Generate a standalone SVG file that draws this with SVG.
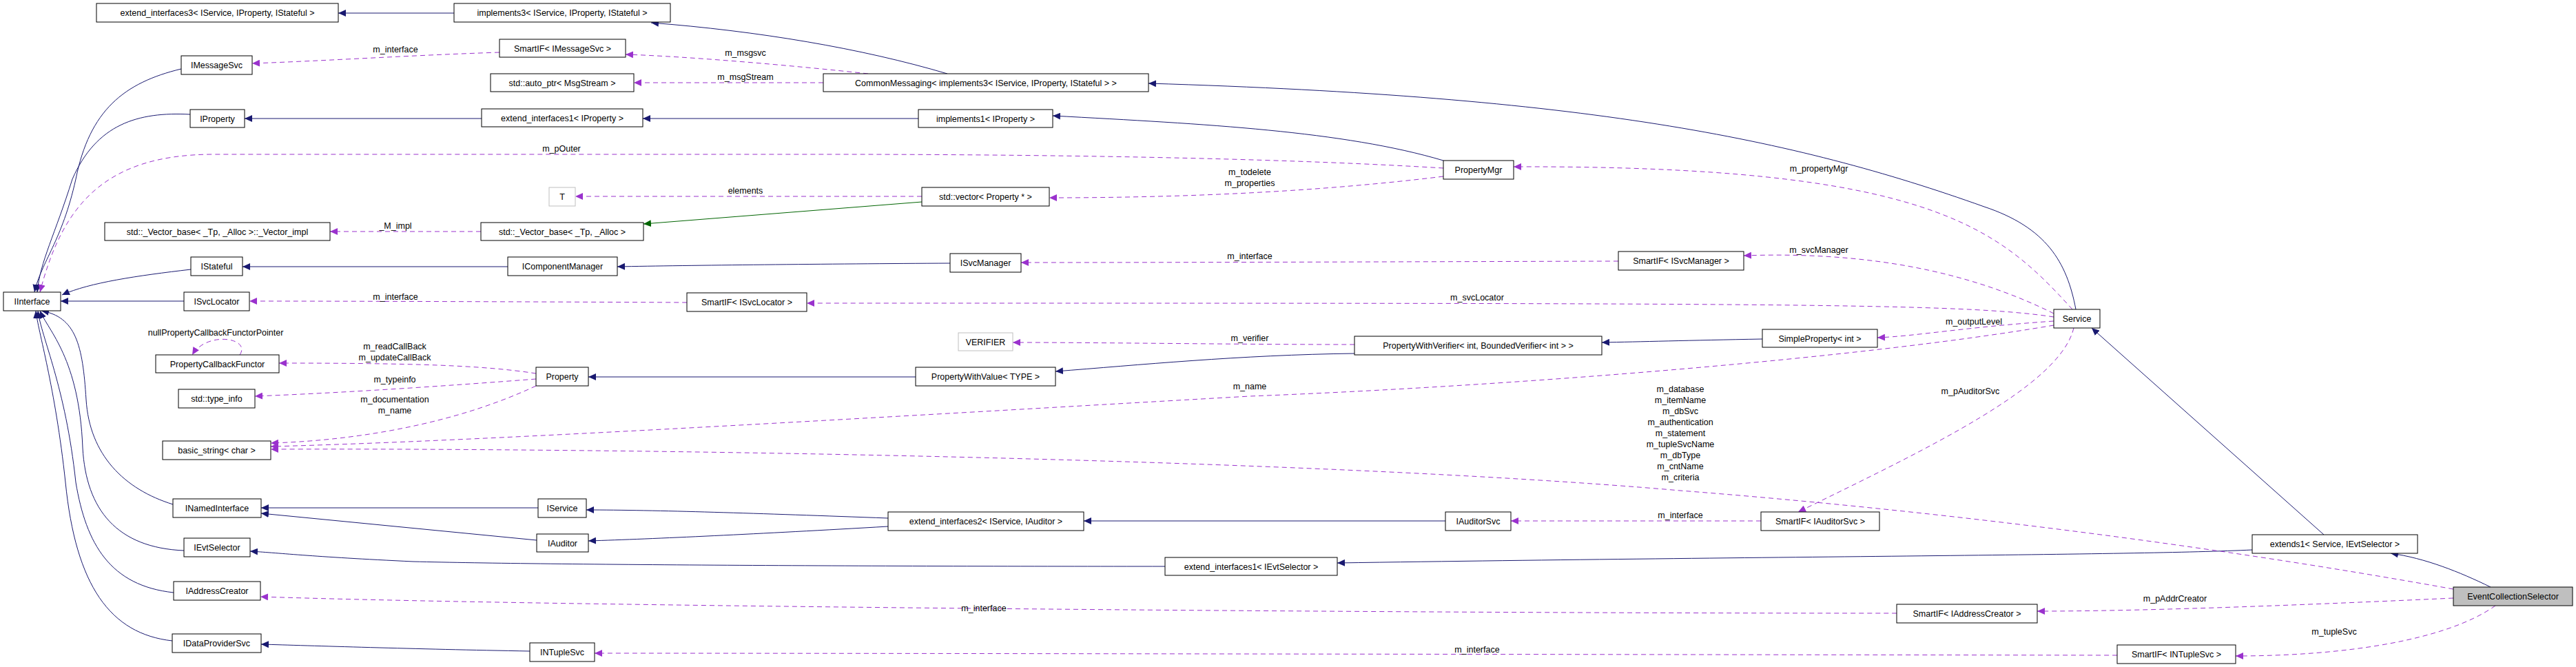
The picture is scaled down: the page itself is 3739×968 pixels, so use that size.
<svg xmlns="http://www.w3.org/2000/svg" width="3739" height="968" viewBox="0 0 3739 968">
<style>
.n rect{fill:#fff;stroke:#000;stroke-width:1}
.g rect{fill:#fff;stroke:#bfbfbf;stroke-width:1}
.h rect{fill:#bfbfbf;stroke:#000;stroke-width:1}
text{font-family:"Liberation Sans",Arial,sans-serif;font-size:12.5px;fill:#000}
.n text,.g text,.h text{text-anchor:middle}
.l{text-anchor:middle}
.b{fill:none;stroke:#191970;stroke-width:1;marker-end:url(#ab)}
.p{fill:none;stroke:#9a32cd;stroke-width:1;stroke-dasharray:7,5;marker-end:url(#ap)}
.q{fill:none;stroke:#006400;stroke-width:1;marker-end:url(#ag)}
</style>
<defs>
<marker id="ab" markerWidth="12" markerHeight="10" refX="11" refY="5" orient="auto" markerUnits="userSpaceOnUse"><path d="M0,0 L11,5 L0,10 Z" fill="#191970"/></marker>
<marker id="ap" markerWidth="12" markerHeight="10" refX="11" refY="5" orient="auto" markerUnits="userSpaceOnUse"><path d="M0,0 L11,5 L0,10 Z" fill="#9a32cd"/></marker>
<marker id="ag" markerWidth="12" markerHeight="10" refX="11" refY="5" orient="auto" markerUnits="userSpaceOnUse"><path d="M0,0 L11,5 L0,10 Z" fill="#006400"/></marker>
</defs>
<rect width="3739" height="968" fill="#fff"/>
<g id="edges">
<path class="b" d="M659,19 L491,19"/>
<path class="b" d="M1375,107 C1250,70 1100,45 945,33"/>
<path class="b" d="M3013,449 C3000,380 2970,330 2880,300 C2600,200 2300,140 1667,121"/>
<path class="b" d="M2095,233 C1950,190 1750,180 1528,168"/>
<path class="b" d="M1333,172 L933,172"/>
<path class="b" d="M699,172 L355,172"/>
<path class="b" d="M263,100 C180,120 130,160 110,260 C90,350 60,380 50,424"/>
<path class="b" d="M276,166 C200,162 140,180 105,260 C80,340 58,380 54,424"/>
<path class="b" d="M277,391 C200,400 130,410 90,428"/>
<path class="b" d="M267,437 L88,437"/>
<path class="b" d="M737,387 L352,387"/>
<path class="b" d="M1379,382 C1200,383 1000,385 896,387"/>
<path class="q" d="M1338,293 L934,325"/>
<path class="b" d="M1329,547 L854,547"/>
<path class="b" d="M1966,513 C1800,515 1650,530 1532,539"/>
<path class="b" d="M2558,492 C2450,494 2380,496 2325,497"/>
<path class="b" d="M251,732 C180,710 130,660 125,580 C120,500 110,460 60,451"/>
<path class="b" d="M267,799 C170,795 125,740 120,650 C115,520 70,480 58,451"/>
<path class="b" d="M252,860 C160,850 125,790 110,700 C95,560 60,490 55,451"/>
<path class="b" d="M250,930 C160,920 110,850 95,700 C80,560 55,480 52,451"/>
<path class="b" d="M781,737 L379,737"/>
<path class="b" d="M779,784 L379,745"/>
<path class="b" d="M1289,752 C1100,745 950,740 851,740"/>
<path class="b" d="M1289,764 C1100,775 950,782 854,785"/>
<path class="b" d="M2098,756 L1573,756"/>
<path class="b" d="M1691,822 C1300,822 800,820 600,815 C450,808 400,802 363,800"/>
<path class="b" d="M3269,798 C3100,806 2600,807 1941,817"/>
<path class="b" d="M3373,776 L3036,476"/>
<path class="b" d="M3615,852 C3570,830 3520,810 3470,803"/>
<path class="b" d="M769,945 C600,942 450,937 379,935"/>
<path class="p" d="M725,76 C600,80 480,88 366,92"/>
<path class="p" d="M1260,107 C1150,95 1000,82 908,79"/>
<path class="p" d="M1195,120 L920,120"/>
<path class="p" d="M2095,244 C1900,232 1600,224 1200,224 L310,224 C150,224 90,300 58,424"/>
<path class="p" d="M2095,256 C1900,280 1700,287 1523,287"/>
<path class="p" d="M1338,285 L835,285"/>
<path class="p" d="M698,336 L479,336"/>
<path class="p" d="M2349,379 C2000,380 1700,381 1482,381"/>
<path class="p" d="M997,439 C800,438 500,437 362,437"/>
<path class="p" d="M3008,449 C2900,330 2800,240 2197,242"/>
<path class="p" d="M2981,455 C2850,390 2700,365 2531,371"/>
<path class="p" d="M2981,460 C2850,440 2600,440 1171,440"/>
<path class="p" d="M2981,466 C2850,475 2780,488 2725,490"/>
<path class="p" d="M1966,500 C1800,500 1600,497 1470,497"/>
<path class="p" d="M778,542 C700,530 600,527 405,527"/>
<path class="p" d="M778,550 C650,560 500,570 370,575"/>
<path class="p" d="M778,560 C650,620 500,640 393,643"/>
<path class="p" d="M348,515 C365,490 300,480 279,515"/>
<path class="p" d="M2981,472 C2700,520 2200,560 1814,575 C1200,610 700,640 393,648"/>
<path class="p" d="M3561,855 C3200,790 2800,740 2439,712 C1900,665 900,650 393,652"/>
<path class="p" d="M3010,476 C2990,560 2800,650 2610,743"/>
<path class="p" d="M2556,756 L2193,756"/>
<path class="p" d="M2753,890 C2000,890 800,880 378,866"/>
<path class="p" d="M3561,868 C3300,880 3100,887 2957,887"/>
<path class="p" d="M3073,951 C2500,950 1200,948 863,948"/>
<path class="p" d="M3622,879 C3550,930 3400,952 3245,952"/>
</g>
<g id="labels">
<text class="l" x="574" y="76">m_interface</text>
<text class="l" x="1082" y="81">m_msgsvc</text>
<text class="l" x="1082" y="116">m_msgStream</text>
<text class="l" x="815" y="220">m_pOuter</text>
<text class="l" x="1082" y="281">elements</text>
<text class="l" x="1814" y="254">m_todelete</text>
<text class="l" x="1814" y="270">m_properties</text>
<text class="l" x="574" y="332">_M_impl</text>
<text class="l" x="1814" y="376">m_interface</text>
<text class="l" x="574" y="435">m_interface</text>
<text class="l" x="2640" y="249">m_propertyMgr</text>
<text class="l" x="2640" y="367">m_svcManager</text>
<text class="l" x="2144" y="436">m_svcLocator</text>
<text class="l" x="2865" y="471">m_outputLevel</text>
<text class="l" x="313" y="487">nullPropertyCallbackFunctorPointer</text>
<text class="l" x="573" y="507">m_readCallBack</text>
<text class="l" x="573" y="523">m_updateCallBack</text>
<text class="l" x="573" y="555">m_typeinfo</text>
<text class="l" x="573" y="584">m_documentation</text>
<text class="l" x="573" y="600">m_name</text>
<text class="l" x="1814" y="495">m_verifier</text>
<text class="l" x="1814" y="565">m_name</text>
<text class="l" x="2439" y="569">m_database</text>
<text class="l" x="2439" y="585">m_itemName</text>
<text class="l" x="2439" y="601">m_dbSvc</text>
<text class="l" x="2439" y="617">m_authentication</text>
<text class="l" x="2439" y="633">m_statement</text>
<text class="l" x="2439" y="649">m_tupleSvcName</text>
<text class="l" x="2439" y="665">m_dbType</text>
<text class="l" x="2439" y="681">m_cntName</text>
<text class="l" x="2439" y="697">m_criteria</text>
<text class="l" x="2860" y="572">m_pAuditorSvc</text>
<text class="l" x="2439" y="752">m_interface</text>
<text class="l" x="1428" y="887">m_interface</text>
<text class="l" x="3157" y="873">m_pAddrCreator</text>
<text class="l" x="3388" y="921">m_tupleSvc</text>
<text class="l" x="2144" y="947">m_interface</text>
</g>
<g id="nodes">
<g id="n1" class="n"><rect x="140" y="5" width="351" height="27"/><text x="315.5" y="23">extend_interfaces3&lt; IService, IProperty, IStateful &gt;</text></g>
<g id="n2" class="n"><rect x="659" y="5" width="314" height="27"/><text x="816" y="23">implements3&lt; IService, IProperty, IStateful &gt;</text></g>
<g id="n3" class="n"><rect x="263" y="81" width="103" height="27"/><text x="314.5" y="99">IMessageSvc</text></g>
<g id="n4" class="n"><rect x="725" y="57" width="183" height="26"/><text x="816.5" y="75">SmartIF&lt; IMessageSvc &gt;</text></g>
<g id="n5" class="n"><rect x="712" y="107" width="208" height="26"/><text x="816" y="125">std::auto_ptr&lt; MsgStream &gt;</text></g>
<g id="n6" class="n"><rect x="1195" y="107" width="472" height="26"/><text x="1431" y="125">CommonMessaging&lt; implements3&lt; IService, IProperty, IStateful &gt; &gt;</text></g>
<g id="n7" class="n"><rect x="276" y="159" width="79" height="26"/><text x="315.5" y="177">IProperty</text></g>
<g id="n8" class="n"><rect x="699" y="158" width="234" height="26"/><text x="816" y="176">extend_interfaces1&lt; IProperty &gt;</text></g>
<g id="n9" class="n"><rect x="1333" y="159" width="195" height="26"/><text x="1430.5" y="177">implements1&lt; IProperty &gt;</text></g>
<g id="n10" class="n"><rect x="2095" y="233" width="102" height="27"/><text x="2146" y="251">PropertyMgr</text></g>
<g id="n11" class="g"><rect x="797" y="272" width="38" height="27"/><text x="816" y="290">T</text></g>
<g id="n12" class="n"><rect x="1338" y="272" width="185" height="27"/><text x="1430.5" y="290">std::vector&lt; Property * &gt;</text></g>
<g id="n13" class="n"><rect x="152" y="323" width="327" height="26"/><text x="315.5" y="341">std::_Vector_base&lt; _Tp, _Alloc &gt;::_Vector_impl</text></g>
<g id="n14" class="n"><rect x="698" y="323" width="236" height="26"/><text x="816" y="341">std::_Vector_base&lt; _Tp, _Alloc &gt;</text></g>
<g id="n15" class="n"><rect x="277" y="373" width="75" height="27"/><text x="314.5" y="391">IStateful</text></g>
<g id="n16" class="n"><rect x="737" y="373" width="159" height="27"/><text x="816.5" y="391">IComponentManager</text></g>
<g id="n17" class="n"><rect x="1379" y="368" width="103" height="27"/><text x="1430.5" y="386">ISvcManager</text></g>
<g id="n18" class="n"><rect x="2349" y="365" width="182" height="27"/><text x="2440" y="383">SmartIF&lt; ISvcManager &gt;</text></g>
<g id="n19" class="n"><rect x="5" y="424" width="83" height="27"/><text x="46.5" y="442">IInterface</text></g>
<g id="n20" class="n"><rect x="267" y="424" width="95" height="27"/><text x="314.5" y="442">ISvcLocator</text></g>
<g id="n21" class="n"><rect x="997" y="425" width="174" height="27"/><text x="1084" y="443">SmartIF&lt; ISvcLocator &gt;</text></g>
<g id="n22" class="n"><rect x="2981" y="449" width="67" height="27"/><text x="3014.5" y="467">Service</text></g>
<g id="n23" class="g"><rect x="1391" y="483" width="79" height="26"/><text x="1430.5" y="501">VERIFIER</text></g>
<g id="n24" class="n"><rect x="1966" y="488" width="359" height="27"/><text x="2145.5" y="506">PropertyWithVerifier&lt; int, BoundedVerifier&lt; int &gt; &gt;</text></g>
<g id="n25" class="n"><rect x="2558" y="478" width="167" height="26"/><text x="2641.5" y="496">SimpleProperty&lt; int &gt;</text></g>
<g id="n26" class="n"><rect x="226" y="515" width="179" height="26"/><text x="315.5" y="533">PropertyCallbackFunctor</text></g>
<g id="n27" class="n"><rect x="778" y="533" width="76" height="27"/><text x="816" y="551">Property</text></g>
<g id="n28" class="n"><rect x="1329" y="533" width="203" height="27"/><text x="1430.5" y="551">PropertyWithValue&lt; TYPE &gt;</text></g>
<g id="n29" class="n"><rect x="259" y="565" width="111" height="27"/><text x="314.5" y="583">std::type_info</text></g>
<g id="n30" class="n"><rect x="236" y="640" width="157" height="27"/><text x="314.5" y="658">basic_string&lt; char &gt;</text></g>
<g id="n31" class="n"><rect x="251" y="724" width="128" height="27"/><text x="315" y="742">INamedInterface</text></g>
<g id="n32" class="n"><rect x="781" y="724" width="70" height="27"/><text x="816" y="742">IService</text></g>
<g id="n33" class="n"><rect x="1289" y="743" width="284" height="27"/><text x="1431" y="761">extend_interfaces2&lt; IService, IAuditor &gt;</text></g>
<g id="n34" class="n"><rect x="2098" y="743" width="95" height="27"/><text x="2145.5" y="761">IAuditorSvc</text></g>
<g id="n35" class="n"><rect x="2556" y="743" width="172" height="27"/><text x="2642" y="761">SmartIF&lt; IAuditorSvc &gt;</text></g>
<g id="n36" class="n"><rect x="779" y="775" width="75" height="26"/><text x="816.5" y="793">IAuditor</text></g>
<g id="n37" class="n"><rect x="267" y="781" width="96" height="27"/><text x="315" y="799">IEvtSelector</text></g>
<g id="n38" class="n"><rect x="3269" y="776" width="240" height="27"/><text x="3389" y="794">extends1&lt; Service, IEvtSelector &gt;</text></g>
<g id="n39" class="n"><rect x="1691" y="809" width="250" height="26"/><text x="1816" y="827">extend_interfaces1&lt; IEvtSelector &gt;</text></g>
<g id="n40" class="n"><rect x="252" y="844" width="126" height="27"/><text x="315" y="862">IAddressCreator</text></g>
<g id="n41" class="h"><rect x="3561" y="852" width="173" height="27"/><text x="3647.5" y="870">EventCollectionSelector</text></g>
<g id="n42" class="n"><rect x="2753" y="877" width="204" height="27"/><text x="2855" y="895">SmartIF&lt; IAddressCreator &gt;</text></g>
<g id="n43" class="n"><rect x="250" y="920" width="129" height="27"/><text x="314.5" y="938">IDataProviderSvc</text></g>
<g id="n44" class="n"><rect x="769" y="933" width="94" height="27"/><text x="816" y="951">INTupleSvc</text></g>
<g id="n45" class="n"><rect x="3073" y="936" width="172" height="27"/><text x="3159" y="954">SmartIF&lt; INTupleSvc &gt;</text></g>
</g>
</svg>
